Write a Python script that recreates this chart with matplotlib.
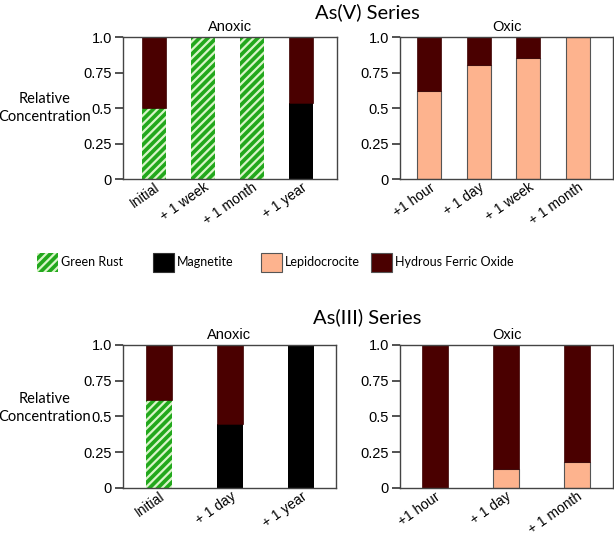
import matplotlib.pyplot as plt
from matplotlib.patches import Patch

# --------------------------------------------------
# Daten
# --------------------------------------------------
av_anoxic_labels = ["Initial", "+ 1 week", "+ 1 month", "+ 1 year"]
av_anoxic_gr = [0.50, 1.0, 1.0, 0.0]
av_anoxic_mag = [0.0, 0.0, 0.0, 0.535]
av_anoxic_hfo = [0.50, 0.0, 0.0, 0.465]

av_oxic_labels = ["+1 hour", "+ 1 day", "+ 1 week", "+ 1 month"]
av_oxic_lep = [0.62, 0.80, 0.85, 1.0]
av_oxic_hfo = [0.38, 0.20, 0.15, 0.0]

aiii_anoxic_labels = ["Initial", "+ 1 day", "+ 1 year"]
aiii_anoxic_gr = [0.615, 0.0, 0.0]
aiii_anoxic_mag = [0.0, 0.45, 1.0]
aiii_anoxic_hfo = [0.385, 0.55, 0.0]

aiii_oxic_labels = ["+1 hour", "+ 1 day", "+ 1 month"]
aiii_oxic_lep = [0.0, 0.13, 0.185]
aiii_oxic_hfo = [1.0, 0.87, 0.815]

legend_names = ["Green Rust", "Magnetite", "Lepidocrocite", "Hydrous Ferric Oxide"]

GREEN = "#22a81c"
MAG = "#000000"
LEP = "#fdb38e"
HFO = "#4a0000"

plt.rcParams["hatch.linewidth"] = 1.6
plt.rcParams["font.family"] = "Liberation Sans"
SANS = "Lato"


# --------------------------------------------------
# Hilfsfunktion: gestapelte Balken
# --------------------------------------------------
def stacked(ax, labels, layers, width, xlim, title):
    x = list(range(len(labels)))
    bottom = [0.0] * len(labels)
    for vals, kind in layers:
        if kind == "gr":
            ax.bar(x, vals, width, bottom=bottom, color=GREEN,
                   edgecolor="#d8f5c8", hatch="////", linewidth=0)
        elif kind == "mag":
            ax.bar(x, vals, width, bottom=bottom, color=MAG, linewidth=0)
        elif kind == "lep":
            ax.bar(x, vals, width, bottom=bottom, color=LEP,
                   edgecolor="#555555", linewidth=0.8)
        else:
            ax.bar(x, vals, width, bottom=bottom, color=HFO,
                   edgecolor="#3a0000", linewidth=0.5)
        bottom = [b + v for b, v in zip(bottom, vals)]

    ax.set_xlim(*xlim)
    ax.set_ylim(0, 1.0)
    ax.set_yticks([0, 0.25, 0.5, 0.75, 1.0])
    ax.set_yticklabels(["0", "0.25", "0.5", "0.75", "1.0"], fontsize=10.5)
    ax.set_xticks(x)
    ax.set_xticklabels(labels, rotation=35, ha="right", rotation_mode="anchor",
                       fontsize=10)
    ax.tick_params(axis="x", length=0, pad=1)
    ax.tick_params(axis="y", length=6, width=1.2, direction="out", pad=2,
                   color="#333333")
    for sp in ax.spines.values():
        sp.set_color("#444444")
        sp.set_linewidth(1.0)
    ax.set_title(title, fontsize=10.5, pad=4)


fig = plt.figure(figsize=(6.14, 5.35), dpi=100)

ax1 = fig.add_axes([0.2003, 0.6654, 0.3485, 0.2654])
ax2 = fig.add_axes([0.6515, 0.6654, 0.3469, 0.2654])
ax3 = fig.add_axes([0.2003, 0.0879, 0.3470, 0.2673])
ax4 = fig.add_axes([0.6515, 0.0879, 0.3469, 0.2673])

stacked(ax1, av_anoxic_labels,
        [(av_anoxic_gr, "gr"), (av_anoxic_mag, "mag"), (av_anoxic_hfo, "hfo")],
        0.49, (-0.63, 3.73), "Anoxic")
stacked(ax2, av_oxic_labels,
        [(av_oxic_lep, "lep"), (av_oxic_hfo, "hfo")],
        0.49, (-0.59, 3.71), "Oxic")
stacked(ax3, aiii_anoxic_labels,
        [(aiii_anoxic_gr, "gr"), (aiii_anoxic_mag, "mag"), (aiii_anoxic_hfo, "hfo")],
        0.36, (-0.51, 2.49), "Anoxic")
stacked(ax4, aiii_oxic_labels,
        [(aiii_oxic_lep, "lep"), (aiii_oxic_hfo, "hfo")],
        0.36, (-0.49, 2.51), "Oxic")

# Titel
fig.text(0.598, 0.978, "As(V) Series", ha="center", va="center",
         fontsize=14.5, family=SANS)
fig.text(0.598, 0.4075, "As(III) Series", ha="center", va="center",
         fontsize=14.5, family=SANS)

# y-Beschriftung
for y in (1 - 108 / 535, 1 - 408 / 535):
    fig.text(0.073, y, "Relative\nConcentration", ha="center", va="center",
             fontsize=10.5, family=SANS, linespacing=1.45)

# Legende (einzeln platziert)
handles = [
    Patch(facecolor=GREEN, edgecolor="#d8f5c8", hatch="////", linewidth=0),
    Patch(facecolor=MAG, edgecolor="#333333", linewidth=0.8),
    Patch(facecolor=LEP, edgecolor="#555555", linewidth=0.8),
    Patch(facecolor=HFO, edgecolor="#555555", linewidth=0.8),
]
x_left = [37, 153, 261, 371]
for h, name, xl in zip(handles, legend_names, x_left):
    fig.legend([h], [name], loc="center left",
               bbox_to_anchor=(xl / 614, 1 - 262.5 / 535), frameon=False,
               borderpad=0, borderaxespad=0,
               handlelength=1.7, handleheight=2.0, handletextpad=0.2,
               prop={"family": SANS, "size": 9})

fig.savefig("out.png", dpi=100)
